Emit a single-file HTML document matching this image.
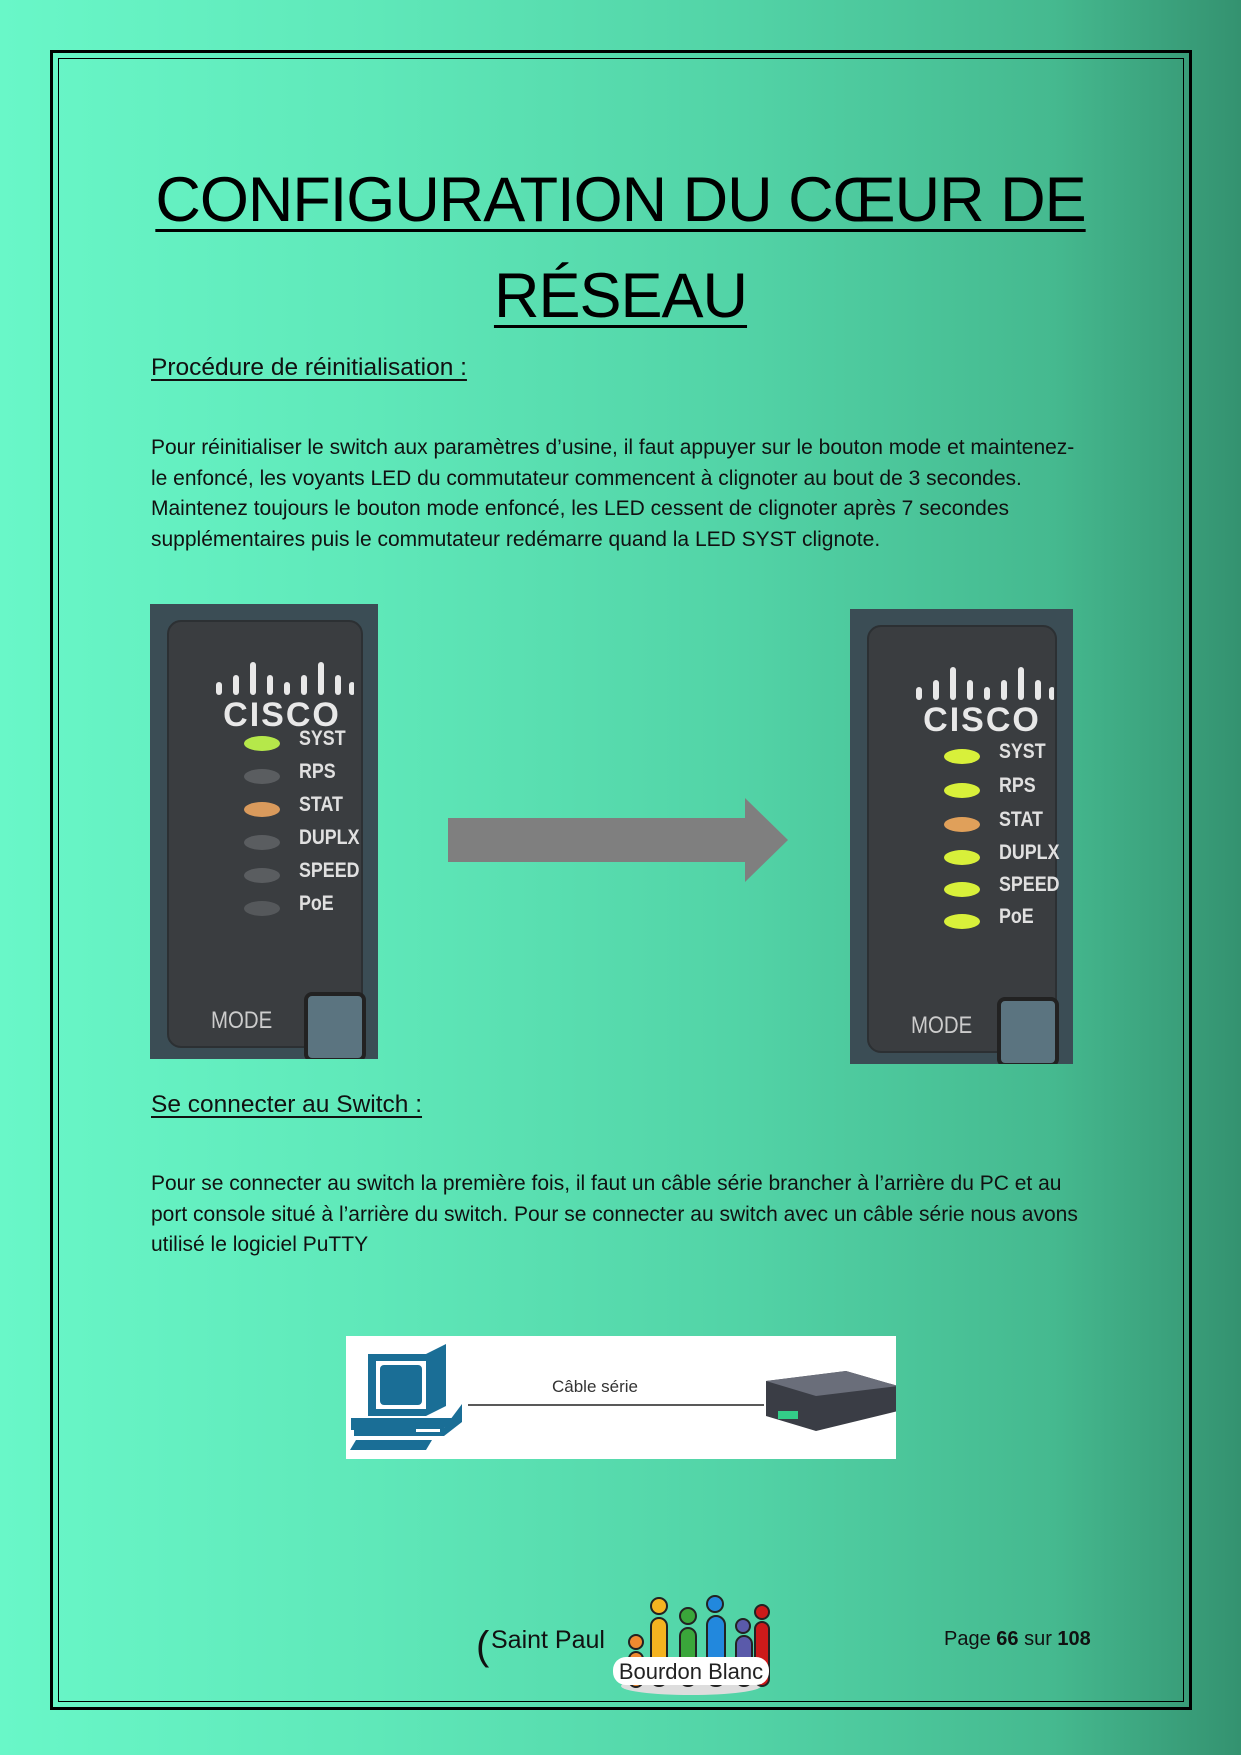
<!DOCTYPE html>
<html><head><meta charset="utf-8"><style>
*{margin:0;padding:0;box-sizing:border-box}
body{width:1241px;height:1755px;position:relative;overflow:hidden;font-family:"Liberation Sans",sans-serif;
background:linear-gradient(90deg,#69f7c8 0%,#5fe8b9 30%,#52d3a6 60%,#45b98f 85%,#349270 100%)}
.abs{position:absolute}
.b1{left:50px;top:50px;width:1142px;height:1660px;border:3px solid #000}
.b2{left:58px;top:58px;width:1126px;height:1644px;border:1.5px solid #000}
.title{left:0;width:1241px;text-align:center;font-size:63px;color:#000;font-weight:normal;letter-spacing:-1px}
.title span{text-decoration:underline;text-decoration-thickness:3px;text-underline-offset:8px}
.h{left:151px;font-size:24.5px;text-decoration:underline;text-underline-offset:4px;color:#111}
.p{left:151px;font-size:21px;line-height:30.6px;color:#111;white-space:nowrap}
.cisco{background:#3b4d55;overflow:hidden}
.inner{position:absolute;left:17px;top:16px;width:196px;height:428px;background:#3a3d40;border-radius:14px;border:2px solid #2c3033}
.bars{position:absolute;left:45px;top:38px;width:140px;height:40px}
.logo{position:absolute;left:38px;top:74px;width:150px;text-align:center;color:#e8e8e8;font-weight:bold;font-size:34px;letter-spacing:2px}
.led{position:absolute;width:36px;height:15px;border-radius:50%;left:75px}
.lbl{position:absolute;left:130px;color:#e0e0e0;font-weight:bold;font-size:21px;transform:scaleX(.85);transform-origin:left}
.mode{position:absolute;left:42px;top:385px;color:#ccc;font-size:24px;transform:scaleX(.85);transform-origin:left}
.btn{position:absolute;left:135px;top:370px;width:62px;height:70px;background:#5b7480;border-radius:8px;border:4px solid #222}
</style></head><body>
<div class="abs b1"></div><div class="abs b2"></div>
<div class="abs title" style="top:164px"><span>CONFIGURATION DU CŒUR DE</span></div>
<div class="abs title" style="top:260px"><span>RÉSEAU</span></div>
<div class="abs h" style="top:354px">Procédure de réinitialisation :</div>
<div class="abs p" style="top:433px">Pour réinitialiser le switch aux paramètres d’usine, il faut appuyer sur le bouton mode et maintenez-<br>le enfoncé, les voyants LED du commutateur commencent à clignoter au bout de 3 secondes.<br>Maintenez toujours le bouton mode enfoncé, les LED cessent de clignoter après 7 secondes<br>supplémentaires puis le commutateur redémarre quand la LED SYST clignote.</div>

<div class="abs cisco" style="left:150px;top:604px;width:228px;height:455px">
<div class="inner">
<svg class="bars" viewBox="0 0 140 40"><g stroke="#e8e8e8" stroke-width="6" stroke-linecap="round">
<line x1="5" y1="25" x2="5" y2="32"/><line x1="22" y1="18" x2="22" y2="32"/><line x1="39" y1="5" x2="39" y2="32"/><line x1="56" y1="18" x2="56" y2="32"/><line x1="73" y1="25" x2="73" y2="32"/><line x1="90" y1="18" x2="90" y2="32"/><line x1="107" y1="5" x2="107" y2="32"/><line x1="124" y1="18" x2="124" y2="32"/><line x1="138" y1="25" x2="138" y2="32"/></g></svg>
<div class="logo">CISCO</div>
<div class="led" style="top:114px;background:#b5e84a"></div><div class="lbl" style="top:105px">SYST</div>
<div class="led" style="top:147px;background:#5a5d60"></div><div class="lbl" style="top:138px">RPS</div>
<div class="led" style="top:180px;background:#d99a5c"></div><div class="lbl" style="top:171px">STAT</div>
<div class="led" style="top:213px;background:#5a5d60"></div><div class="lbl" style="top:204px">DUPLX</div>
<div class="led" style="top:246px;background:#5a5d60"></div><div class="lbl" style="top:237px">SPEED</div>
<div class="led" style="top:279px;background:#55585b"></div><div class="lbl" style="top:270px">PoE</div>
<div class="mode">MODE</div><div class="btn"></div>
</div></div>

<svg class="abs" style="left:440px;top:795px" width="350" height="90"><polygon points="8,23 305,23 305,3 348,45 305,87 305,67 8,67" fill="#7f7f7f"/></svg>

<div class="abs cisco" style="left:850px;top:609px;width:223px;height:455px">
<div class="inner" style="width:190px">
<svg class="bars" viewBox="0 0 140 40"><g stroke="#e8e8e8" stroke-width="6" stroke-linecap="round">
<line x1="5" y1="25" x2="5" y2="32"/><line x1="22" y1="18" x2="22" y2="32"/><line x1="39" y1="5" x2="39" y2="32"/><line x1="56" y1="18" x2="56" y2="32"/><line x1="73" y1="25" x2="73" y2="32"/><line x1="90" y1="18" x2="90" y2="32"/><line x1="107" y1="5" x2="107" y2="32"/><line x1="124" y1="18" x2="124" y2="32"/><line x1="138" y1="25" x2="138" y2="32"/></g></svg>
<div class="logo">CISCO</div>
<div class="led" style="top:122px;background:#d8f03a"></div><div class="lbl" style="top:113px">SYST</div>
<div class="led" style="top:156px;background:#d8f03a"></div><div class="lbl" style="top:147px">RPS</div>
<div class="led" style="top:190px;background:#e0a05a"></div><div class="lbl" style="top:181px">STAT</div>
<div class="led" style="top:223px;background:#d8f03a"></div><div class="lbl" style="top:214px">DUPLX</div>
<div class="led" style="top:255px;background:#d8f03a"></div><div class="lbl" style="top:246px">SPEED</div>
<div class="led" style="top:287px;background:#d8f03a"></div><div class="lbl" style="top:278px">PoE</div>
<div class="mode">MODE</div><div class="btn" style="left:128px"></div>
</div></div>

<div class="abs h" style="top:1091px">Se connecter au Switch :</div>
<div class="abs p" style="top:1169px">Pour se connecter au switch la première fois, il faut un câble série brancher à l’arrière du PC et au<br>port console situé à l’arrière du switch. Pour se connecter au switch avec un câble série nous avons<br>utilisé le logiciel PuTTY</div>

<div class="abs" style="left:346px;top:1336px;width:550px;height:123px;background:#fff">
<svg width="550" height="123">
<g fill="#1a6e96">
<polygon points="22,18 80,18 100,8 100,70 80,80 22,80"/>
<rect x="30" y="25" width="50" height="48" fill="#fff"/>
<rect x="34" y="29" width="42" height="40" rx="4"/>
<polygon points="8,92 98,92 116,68 116,86 98,100 8,100"/>
<polygon points="5,82 108,82 96,94 5,94"/>
<polygon points="10,104 86,104 80,114 4,114"/>
</g>
<rect x="70" y="93" width="24" height="3" fill="#fff"/>
<line x1="122" y1="69" x2="418" y2="69" stroke="#222" stroke-width="1.5"/>
<text x="206" y="56" font-family="Liberation Sans" font-size="17" fill="#333">Câble série</text>
<polygon points="420,45 500,35 552,50 552,75 470,95 420,80" fill="#3a3d45"/>
<polygon points="420,45 500,35 552,50 470,60" fill="#6a6e7a"/>
<rect x="432" y="75" width="20" height="8" fill="#3c8"/>
</svg></div>

<div class="abs" style="left:476px;top:1624px;font-size:40px;font-weight:100;color:#111">(</div>
<div class="abs" style="left:491px;top:1626px;font-size:25px;color:#111">Saint Paul</div>
<svg class="abs" style="left:611px;top:1590px" width="160" height="106">
<ellipse cx="80" cy="96" rx="70" ry="9" fill="#ddd"/>
<g stroke="#222" stroke-width="2">
<circle cx="25" cy="52" r="7" fill="#f08a30"/><rect x="18" y="62" width="14" height="35" rx="7" fill="#f08a30"/>
<circle cx="48" cy="16" r="8" fill="#f5b320"/><rect x="40" y="28" width="16" height="68" rx="8" fill="#f5b320"/>
<circle cx="77" cy="26" r="8" fill="#3aa63a"/><rect x="69" y="38" width="16" height="58" rx="8" fill="#3aa63a"/>
<circle cx="104" cy="14" r="8" fill="#2288dd"/><rect x="96" y="26" width="18" height="70" rx="9" fill="#2288dd"/>
<circle cx="132" cy="36" r="7" fill="#5a5aaa"/><rect x="125" y="46" width="16" height="50" rx="8" fill="#5a5aaa"/>
<circle cx="151" cy="22" r="7" fill="#cc1a1a"/><rect x="144" y="32" width="14" height="64" rx="7" fill="#cc1a1a"/>
</g>
<rect x="2" y="67" width="156" height="28" rx="13" fill="#fff"/>
<text x="80" y="89" text-anchor="middle" font-family="Liberation Sans" font-size="22" fill="#222">Bourdon Blanc</text>
</svg>
<div class="abs" style="left:944px;top:1628px;font-size:20px;color:#111">Page <b>66</b> sur <b>108</b></div>
</body></html>
